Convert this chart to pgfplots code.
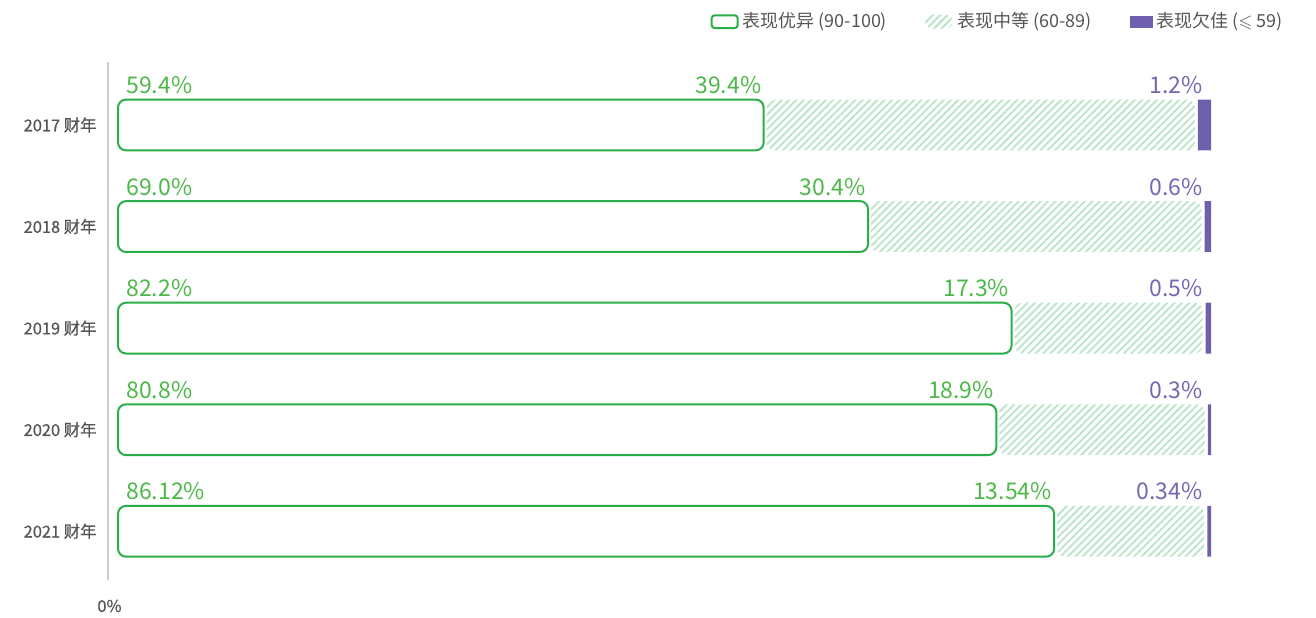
\documentclass[border=0pt]{standalone}
\usepackage{amssymb}
\usepackage{pgfplots}
\pgfplotsset{compat=1.18}
\usetikzlibrary{patterns.meta}
\usepackage{fontspec}
\setmainfont{Noto Sans CJK SC}
\newfontfamily\ylabfont{Noto Sans CJK SC}[FakeBold=0.6]
\definecolor{gOut}{HTML}{2BAE4A}
\definecolor{gTxt}{HTML}{4DB848}
\definecolor{hatchC}{HTML}{B8E5C8}
\definecolor{pur}{HTML}{6E60AE}
\definecolor{purTxt}{HTML}{7467B1}
\definecolor{lab}{HTML}{555555}
\definecolor{axc}{HTML}{CCCCCC}
\newcommand\lbl{\fontsize{11.5}{13}\selectfont}
\begin{document}
\begin{tikzpicture}
\path[use as bounding box] (0,0) rectangle (658pt,-308.5pt);
\begin{axis}[
  at={(54pt,-31pt)}, anchor=north west,
  scale only axis, width=551.5pt, height=259pt,
  xmin=-0.92, xmax=100.55, ymin=-0.62, ymax=4.48, y dir=reverse,
  xbar stacked, bar width=0.5,
  axis x line=none, axis y line*=left,
  y axis line style={draw=axc, line width=1pt, -},
  ytick={0,1,2,3,4},
  yticklabels={2017 财年, 2018 财年, 2019 财年, 2020 财年, 2021 财年},
  major tick length=0pt,
  yticklabel style={font=\ylabfont\fontsize{8.2}{10}\selectfont, text=lab, inner sep=0pt, xshift=-5.5pt},
  clip=false,
  legend columns=3,
  legend style={at={(1.069,1.104)}, anchor=north east, draw=none, fill=none,
    font=\fontsize{9}{10}\selectfont, text=lab, inner sep=0pt,
    /tikz/every odd column/.append style={column sep=0pt},
    /tikz/every even column/.append style={column sep=17pt}},
]
\addplot[draw=gOut, line width=1pt, fill=white, rounded corners=4pt,
  legend image code/.code={\draw[draw=gOut, fill=white, line width=1pt, rounded corners=1.5pt] (0pt,-3.2pt) rectangle (13pt,3.2pt);}]
  coordinates {(59.4,0) (69.0,1) (82.2,2) (80.8,3) (86.12,4)};
\addlegendentry{表现优异 (90-100)}
\addplot[draw=none, pattern={Lines[angle=45,distance=2.6pt,line width=0.9pt]}, pattern color=hatchC, rounded corners=4pt, xshift=1.5pt,
  legend image code/.code={\fill[pattern={Lines[angle=45,distance=2.6pt,line width=1pt]}, pattern color=hatchC] (0pt,-3.5pt) rectangle (14pt,3.5pt);}]
  coordinates {(39.4,0) (30.4,1) (17.3,2) (18.9,3) (13.54,4)};
\addlegendentry{表现中等 (60-89)}
\addplot[draw=none, fill=pur, xshift=3pt,
  legend image code/.code={\fill[pur] (0pt,-3pt) rectangle (11.5pt,3pt);}]
  coordinates {(1.2,0) (0.6,1) (0.5,2) (0.3,3) (0.34,4)};
\addlegendentry{表现欠佳 ($\leqslant$ 59)}
% labels
\foreach \i/\a/\b/\c/\va in {0/59.4/39.4/1.2/59.4, 1/69.0/30.4/0.6/69.0, 2/82.2/17.3/0.5/82.2, 3/80.8/18.9/0.3/80.8, 4/86.12/13.54/0.34/86.12}{
  \edef\temp{\noexpand\node[anchor=base west, text=gTxt, font=\noexpand\lbl, inner sep=0pt, xshift=4pt, yshift=3pt] at (axis cs:0,\i-0.25) {\a\noexpand\%};
  \noexpand\node[anchor=base east, text=gTxt, font=\noexpand\lbl, inner sep=0pt, xshift=-1pt, yshift=3pt] at (axis cs:\va,\i-0.25) {\b\noexpand\%};
  \noexpand\node[anchor=base east, text=purTxt, font=\noexpand\lbl, inner sep=0pt, xshift=-1pt, yshift=3pt] at (axis cs:100,\i-0.25) {\c\noexpand\%};}
  \temp
}
\end{axis}
\node[font=\ylabfont\fontsize{8.2}{10}\selectfont, text=lab, inner sep=0pt] at (54.75pt,-303pt) {0\%};
\end{tikzpicture}
\end{document}
